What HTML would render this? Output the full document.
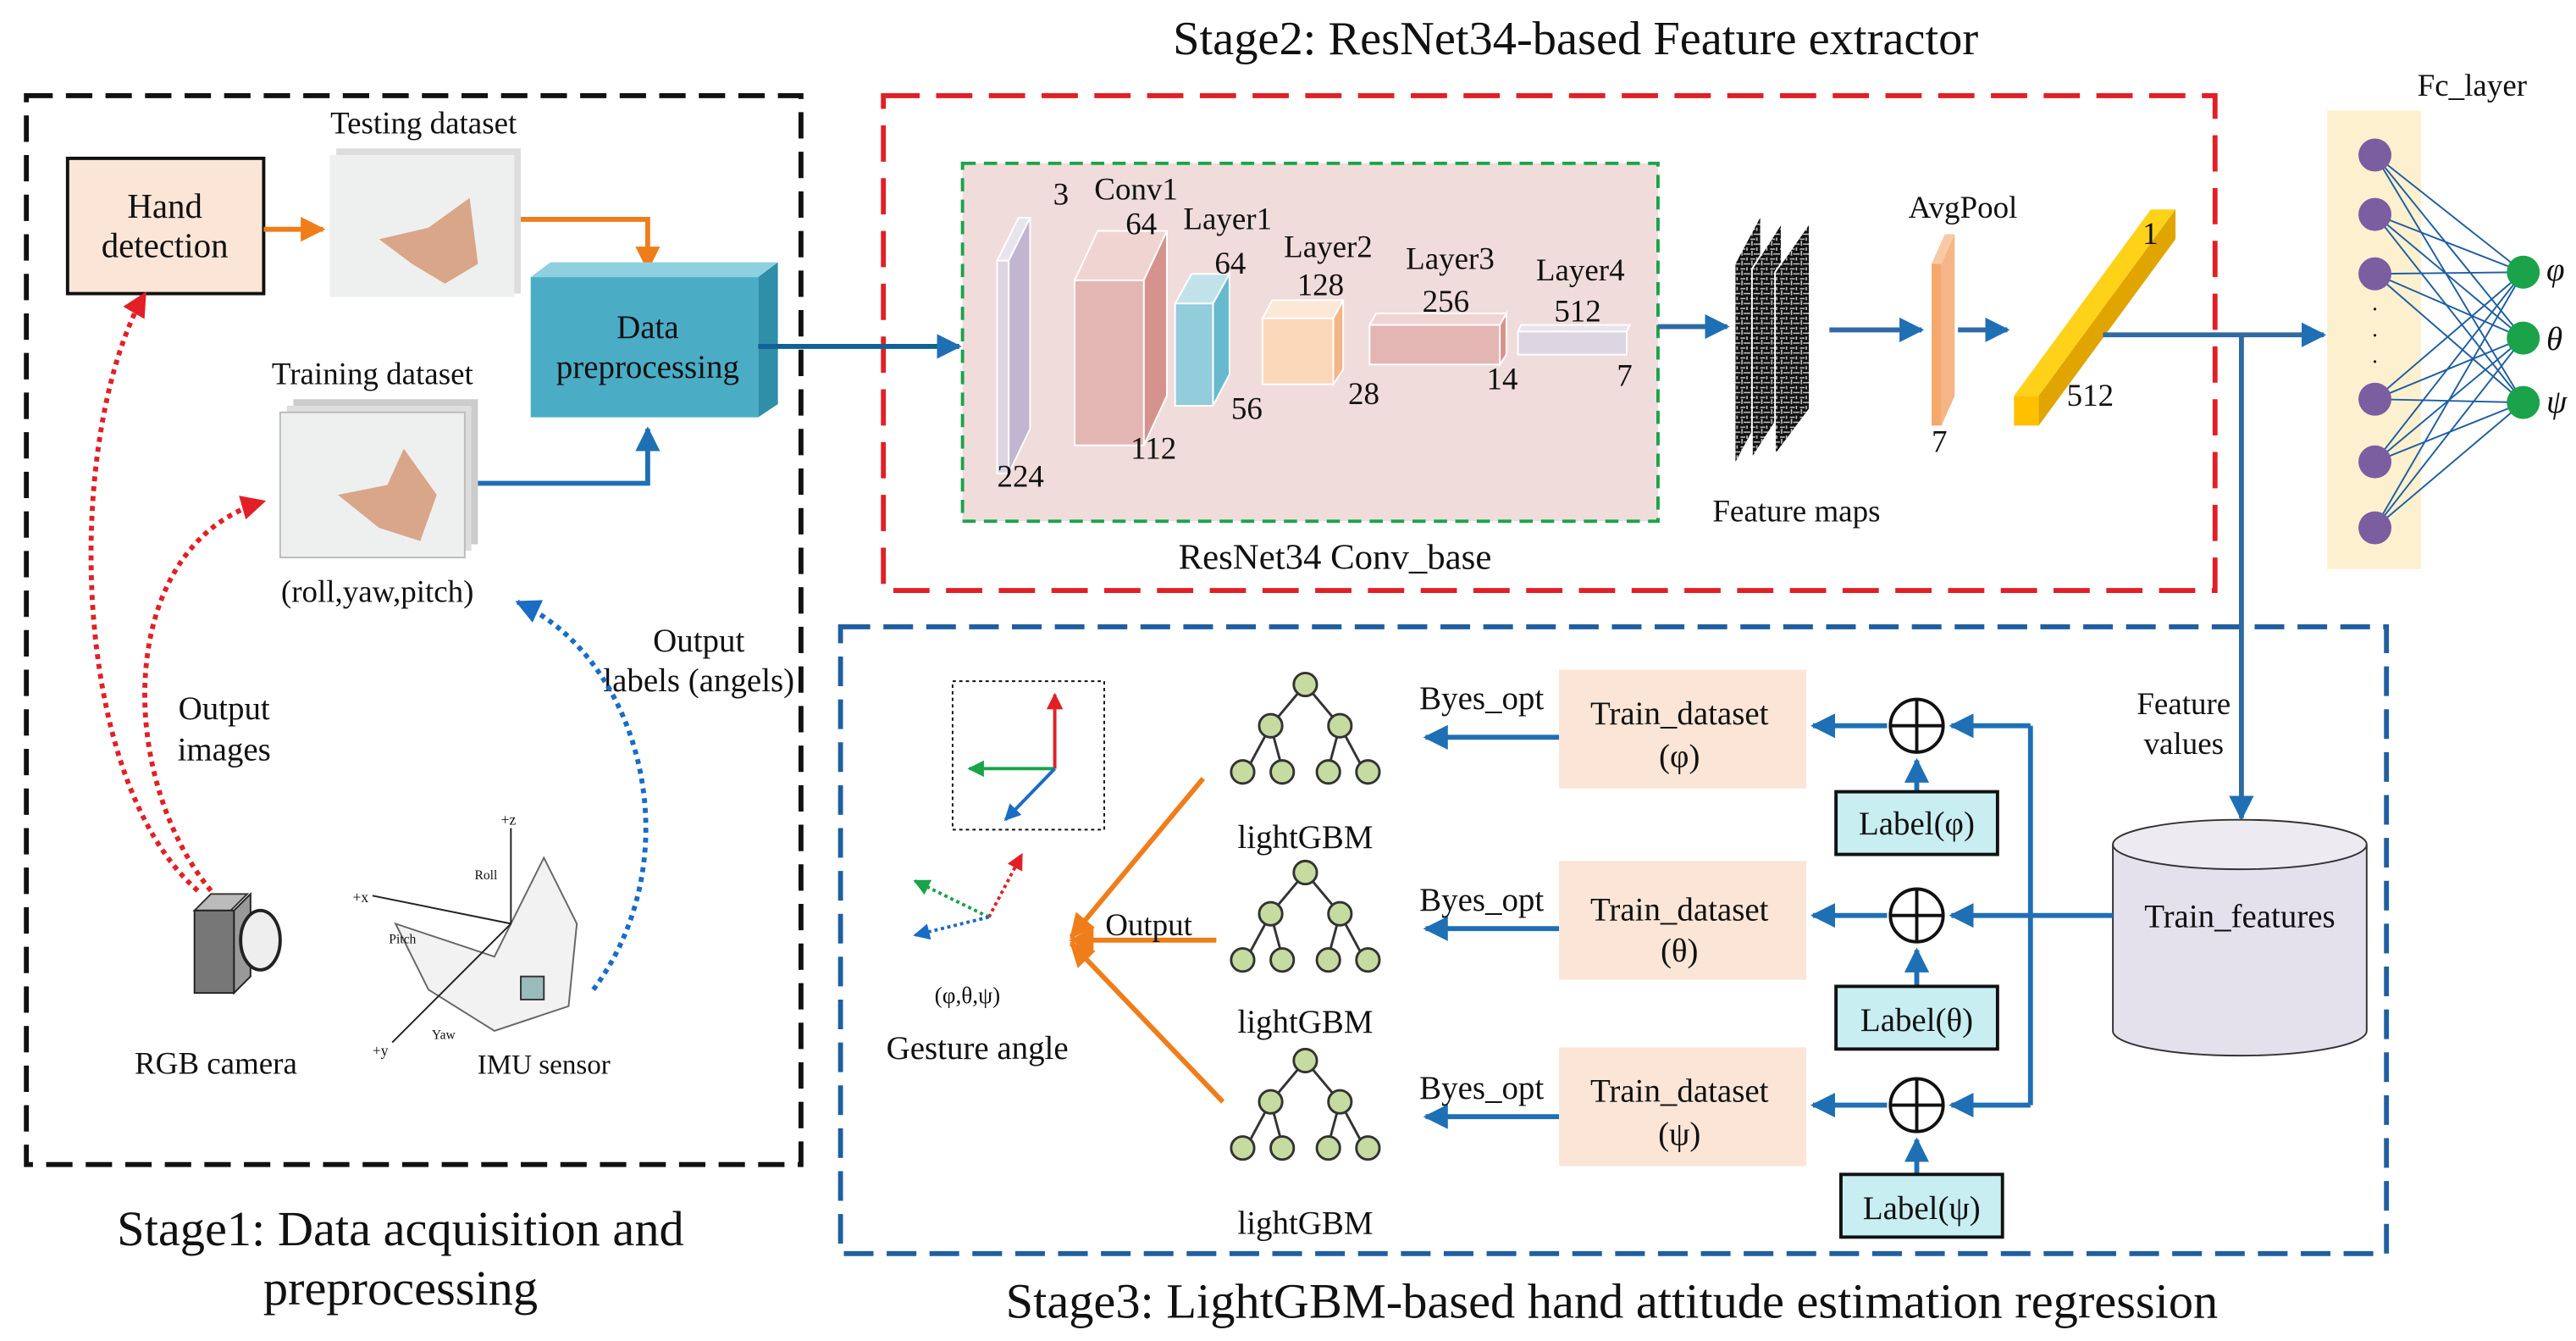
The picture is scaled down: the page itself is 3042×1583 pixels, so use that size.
<!DOCTYPE html>
<html><head><meta charset="utf-8"><style>html,body{margin:0;padding:0;background:#fff}svg{display:block}text{font-family:"Liberation Serif",serif;fill:#111}</style></head><body>
<svg width="3042" height="1583" viewBox="0 0 1563 813" preserveAspectRatio="none" xmlns="http://www.w3.org/2000/svg">
<defs>
<marker id="ab" viewBox="0 0 10 10" refX="9" refY="5" markerWidth="5" markerHeight="5" orient="auto"><path d="M0,0L10,5L0,10z" fill="#1f6fb5"/></marker>
<marker id="ao" viewBox="0 0 10 10" refX="9" refY="5" markerWidth="5" markerHeight="5" orient="auto"><path d="M0,0L10,5L0,10z" fill="#ef7d1a"/></marker>
<marker id="ar" viewBox="0 0 10 10" refX="9" refY="5" markerWidth="5" markerHeight="5" orient="auto"><path d="M0,0L10,5L0,10z" fill="#e21f26"/></marker>
<marker id="abl" viewBox="0 0 10 10" refX="9" refY="5" markerWidth="5" markerHeight="5" orient="auto"><path d="M0,0L10,5L0,10z" fill="#1a6cc4"/></marker>
<marker id="ag" viewBox="0 0 10 10" refX="9" refY="5" markerWidth="5" markerHeight="5" orient="auto"><path d="M0,0L10,5L0,10z" fill="#1aa34a"/></marker>
<pattern id="noise" width="6" height="6" patternUnits="userSpaceOnUse"><rect width="6" height="6" fill="#111"/><path d="M0,1h3M2,4h4M1,2v3M4,0v2" stroke="#ccc" stroke-width="0.8"/></pattern>
</defs>

<text x="956" y="33" font-size="29" text-anchor="middle">Stage2: ResNet34-based Feature extractor</text>
<text x="243" y="755" font-size="30" text-anchor="middle">Stage1: Data acquisition and</text>
<text x="243" y="791" font-size="30" text-anchor="middle">preprocessing</text>
<text x="978" y="799" font-size="30" text-anchor="middle">Stage3: LightGBM-based hand attitude estimation regression</text>

<rect x="16" y="58" width="470" height="648" fill="none" stroke="#111" stroke-width="3" stroke-dasharray="16,8"/>
<rect x="41" y="96" width="119" height="82" fill="#fbe5d6" stroke="#111" stroke-width="2"/>
<text x="100" y="132" font-size="21" text-anchor="middle">Hand</text>
<text x="100" y="156" font-size="21" text-anchor="middle">detection</text>
<line x1="160" y1="139" x2="196" y2="139" stroke="#ef7d1a" stroke-width="3" marker-end="url(#ao)"/>
<text x="257" y="81" font-size="19" text-anchor="middle">Testing dataset</text>
<rect x="204" y="90" width="112" height="88" fill="#ddd"/>
<rect x="200" y="94" width="112" height="86" fill="#eef0f0"/>
<path d="M230,145 L260,138 L285,120 L290,160 L270,172 L250,160 Z" fill="#d9a68a"/>
<path d="M316,133 L393,133 L393,163" fill="none" stroke="#ef7d1a" stroke-width="3" marker-end="url(#ao)"/>
<text x="226" y="233" font-size="19" text-anchor="middle">Training dataset</text>
<rect x="178" y="242" width="112" height="88" fill="#ccc"/><rect x="174" y="246" width="112" height="88" fill="#ddd"/>
<rect x="170" y="250" width="112" height="88" fill="#eef0f0" stroke="#bbb"/>
<path d="M205,300 L235,294 L245,272 L265,300 L255,328 L230,320 Z" fill="#d9a68a"/>
<path d="M290,293 L393,293 L393,260" fill="none" stroke="#1f6fb5" stroke-width="3" marker-end="url(#ab)"/>
<polygon points="322,168 334,159 472,159 460,168" fill="#8fd0e0"/>
<polygon points="460,168 472,159 472,245 460,253" fill="#2f8ea8"/>
<rect x="322" y="168" width="138" height="85" fill="#4bacc6"/>
<text x="393" y="205" font-size="20" text-anchor="middle">Data</text>
<text x="393" y="229" font-size="20" text-anchor="middle">preprocessing</text>
<text x="229" y="365" font-size="19" text-anchor="middle">(roll,yaw,pitch)</text>
<text x="424" y="395" font-size="20" text-anchor="middle">Output</text>
<text x="424" y="419" font-size="20" text-anchor="middle">labels (angels)</text>
<text x="136" y="436" font-size="20" text-anchor="middle">Output</text>
<text x="136" y="461" font-size="20" text-anchor="middle">images</text>
<path d="M120,540 C40,470 40,260 88,178" fill="none" stroke="#e21f26" stroke-width="3" stroke-dasharray="3,3" marker-end="url(#ar)"/>
<path d="M128,540 C70,470 70,330 160,304" fill="none" stroke="#e21f26" stroke-width="3" stroke-dasharray="3,3" marker-end="url(#ar)"/>
<path d="M360,600 C420,520 390,400 314,365" fill="none" stroke="#1a6cc4" stroke-width="3" stroke-dasharray="3,3" marker-end="url(#abl)"/>
<polygon points="118,552 128,542 150,542 140,552" fill="#bbb" stroke="#333"/>
<rect x="118" y="552" width="24" height="50" fill="#777" stroke="#222"/>
<polygon points="142,552 152,542 152,592 142,602" fill="#999" stroke="#222"/>
<ellipse cx="158" cy="570" rx="12" ry="18" fill="#eee" stroke="#222" stroke-width="2"/>
<text x="131" y="651" font-size="19" text-anchor="middle">RGB camera</text>
<path d="M240,560 L300,580 L330,520 L350,560 L345,610 L300,625 L260,600 Z" fill="#f2f2f2" stroke="#666"/>
<line x1="310" y1="560" x2="310" y2="502" stroke="#222"/><text x="304" y="500" font-size="9">+z</text>
<line x1="310" y1="560" x2="226" y2="543" stroke="#222"/><text x="214" y="547" font-size="9">+x</text>
<line x1="310" y1="560" x2="238" y2="632" stroke="#222"/><text x="226" y="640" font-size="9">+y</text>
<text x="288" y="533" font-size="8">Roll</text><text x="236" y="572" font-size="8">Pitch</text><text x="262" y="630" font-size="8">Yaw</text>
<rect x="316" y="592" width="14" height="14" fill="#9bb" stroke="#333"/>
<text x="330" y="651" font-size="17" text-anchor="middle">IMU sensor</text>

<rect x="536" y="58" width="808" height="300" fill="none" stroke="#e21f26" stroke-width="3" stroke-dasharray="22,10"/>
<line x1="460" y1="210" x2="582" y2="210" stroke="#0f6196" stroke-width="3" marker-end="url(#ab)"/>
<rect x="584" y="99" width="422" height="217" fill="#f0dcda" stroke="#1aa34a" stroke-width="2" stroke-dasharray="8,5"/>
<polygon points="605,158 618,132 625,132 612,158" fill="#e8e4ec" stroke="#fff"/>
<polygon points="612,158 625,132 625,260 612,287" fill="#c2b5cf" stroke="#fff"/>
<rect x="605" y="158" width="7" height="129" fill="#ddd6e2" stroke="#fff"/>
<polygon points="652,170 666,140 708,140 694,170" fill="#f0d4d2" stroke="#fff"/>
<polygon points="694,170 708,140 708,240 694,270" fill="#d6928d" stroke="#fff"/>
<rect x="652" y="170" width="42" height="100" fill="#e4b6b3" stroke="#fff"/>
<polygon points="713,184 723,166 746,166 736,184" fill="#c2e2ea" stroke="#fff"/>
<polygon points="736,184 746,166 746,227 736,246" fill="#67b9ce" stroke="#fff"/>
<rect x="713" y="184" width="23" height="62" fill="#93ccdb" stroke="#fff"/>
<polygon points="766,193 772,182 815,182 809,193" fill="#fde7d7" stroke="#fff"/>
<polygon points="809,193 815,182 815,224 809,233" fill="#f5b586" stroke="#fff"/>
<rect x="766" y="193" width="43" height="40" fill="#fad7b9" stroke="#fff"/>
<polygon points="831,197 835,190 914,190 910,197" fill="#f0d4d2" stroke="#fff"/>
<polygon points="910,197 914,190 914,215 910,221" fill="#d6928d" stroke="#fff"/>
<rect x="831" y="197" width="79" height="24" fill="#e4b6b3" stroke="#fff"/>
<polygon points="921,201 923,197 989,197 987,201" fill="#e8e4ec" stroke="#fff"/>
<rect x="921" y="201" width="66" height="14" fill="#ddd6e2" stroke="#fff"/>
<g font-size="19">
<text x="639" y="124">3</text><text x="664" y="121">Conv1</text><text x="683" y="142">64</text>
<text x="718" y="139">Layer1</text><text x="737" y="166">64</text>
<text x="779" y="156">Layer2</text><text x="787" y="179">128</text>
<text x="853" y="163">Layer3</text><text x="863" y="189">256</text>
<text x="932" y="170">Layer4</text><text x="943" y="195">512</text>
<text x="605" y="295">224</text><text x="686" y="278">112</text><text x="747" y="254">56</text><text x="818" y="245">28</text>
<text x="902" y="236">14</text><text x="981" y="234">7</text>
</g>
<text x="810" y="345" font-size="22" text-anchor="middle">ResNet34 Conv_base</text>
<line x1="1006" y1="198" x2="1048" y2="198" stroke="#2f6aa3" stroke-width="3" marker-end="url(#ab)"/>
<polygon points="1053,160 1068,132 1068,252 1053,280" fill="url(#noise)"/>
<polygon points="1063,163 1081,135 1081,250 1063,278" fill="url(#noise)" stroke="#fff"/>
<polygon points="1077,165 1098,135 1098,248 1077,276" fill="url(#noise)" stroke="#fff"/>
<text x="1090" y="316" font-size="19" text-anchor="middle">Feature maps</text>
<line x1="1110" y1="200" x2="1166" y2="200" stroke="#2f6aa3" stroke-width="3" marker-end="url(#ab)"/>
<text x="1191" y="132" font-size="19" text-anchor="middle">AvgPool</text>
<polygon points="1172,160 1180,142 1186,142 1178,160" fill="#f8c9a5"/>
<polygon points="1178,160 1186,142 1186,240 1178,258" fill="#f5b586"/>
<rect x="1172" y="160" width="6" height="98" fill="#f4a86b"/>
<text x="1172" y="274" font-size="19">7</text>
<line x1="1188" y1="200" x2="1218" y2="200" stroke="#2f6aa3" stroke-width="3" marker-end="url(#ab)"/>
<polygon points="1222,240 1305,127 1320,127 1237,240" fill="#ffd21a"/>
<polygon points="1237,240 1320,127 1320,145 1237,258" fill="#e0a500"/>
<rect x="1222" y="240" width="15" height="18" fill="#ffc000"/>
<text x="1300" y="148" font-size="19">1</text><text x="1254" y="246" font-size="19">512</text>
<line x1="1276" y1="203" x2="1410" y2="203" stroke="#2f6aa3" stroke-width="3" marker-end="url(#ab)"/>
<rect x="1412" y="67" width="57" height="278" fill="#fdf0cf"/>
<text x="1500" y="58" font-size="19" text-anchor="middle">Fc_layer</text>
<g stroke="#1f5fa0" stroke-width="1">
<line x1="1441" y1="94" x2="1531" y2="165"/><line x1="1441" y1="94" x2="1531" y2="205"/><line x1="1441" y1="94" x2="1531" y2="244"/>
<line x1="1441" y1="130" x2="1531" y2="165"/><line x1="1441" y1="130" x2="1531" y2="205"/><line x1="1441" y1="130" x2="1531" y2="244"/>
<line x1="1441" y1="166" x2="1531" y2="165"/><line x1="1441" y1="166" x2="1531" y2="205"/><line x1="1441" y1="166" x2="1531" y2="244"/>
<line x1="1441" y1="242" x2="1531" y2="165"/><line x1="1441" y1="242" x2="1531" y2="205"/><line x1="1441" y1="242" x2="1531" y2="244"/>
<line x1="1441" y1="280" x2="1531" y2="165"/><line x1="1441" y1="280" x2="1531" y2="205"/><line x1="1441" y1="280" x2="1531" y2="244"/>
<line x1="1441" y1="320" x2="1531" y2="165"/><line x1="1441" y1="320" x2="1531" y2="205"/><line x1="1441" y1="320" x2="1531" y2="244"/>
</g>
<g fill="#7a5ea0"><circle cx="1441" cy="94" r="10"/><circle cx="1441" cy="130" r="10"/><circle cx="1441" cy="166" r="10"/><circle cx="1441" cy="242" r="10"/><circle cx="1441" cy="280" r="10"/><circle cx="1441" cy="320" r="10"/></g>
<text x="1441" y="192" font-size="14" text-anchor="middle">·</text><text x="1441" y="208" font-size="14" text-anchor="middle">·</text><text x="1441" y="224" font-size="14" text-anchor="middle">·</text>
<g fill="#1aa34a"><circle cx="1531" cy="165" r="10"/><circle cx="1531" cy="205" r="10"/><circle cx="1531" cy="244" r="10"/></g>
<g font-size="20" font-style="italic"><text x="1545" y="170">φ</text><text x="1545" y="212">θ</text><text x="1545" y="250">ψ</text></g>

<rect x="510" y="380" width="938" height="380" fill="none" stroke="#1f5fa0" stroke-width="3" stroke-dasharray="18,8"/>
<line x1="1360" y1="203" x2="1360" y2="496" stroke="#2f6aa3" stroke-width="3" marker-end="url(#ab)"/>
<text x="1325" y="433" font-size="19" text-anchor="middle">Feature</text>
<text x="1325" y="457" font-size="19" text-anchor="middle">values</text>
<path d="M1282,512 L1282,625 A77,15 0 0 0 1436,625 L1436,512" fill="#e4e0ec" stroke="#333"/>
<ellipse cx="1359" cy="512" rx="77" ry="15" fill="#eeeaf2" stroke="#333"/>
<text x="1359" y="562" font-size="20" text-anchor="middle">Train_features</text>
<path d="M1282,555 L1232,555 M1232,440 L1232,670" fill="none" stroke="#1f6fb5" stroke-width="3"/>
<g stroke="#1f6fb5" stroke-width="3" fill="none">
<line x1="1232" y1="440" x2="1184" y2="440" marker-end="url(#ab)"/>
<line x1="1232" y1="555" x2="1184" y2="555" marker-end="url(#ab)"/>
<line x1="1232" y1="670" x2="1184" y2="670" marker-end="url(#ab)"/>
<line x1="1145" y1="440" x2="1100" y2="440" marker-end="url(#ab)"/>
<line x1="1145" y1="555" x2="1100" y2="555" marker-end="url(#ab)"/>
<line x1="1145" y1="670" x2="1100" y2="670" marker-end="url(#ab)"/>
<line x1="1163" y1="480" x2="1163" y2="461" marker-end="url(#ab)"/>
<line x1="1163" y1="598" x2="1163" y2="576" marker-end="url(#ab)"/>
<line x1="1163" y1="712" x2="1163" y2="691" marker-end="url(#ab)"/>
<line x1="946" y1="447" x2="865" y2="447" marker-end="url(#ab)"/>
<line x1="946" y1="563" x2="865" y2="563" marker-end="url(#ab)"/>
<line x1="946" y1="677" x2="865" y2="677" marker-end="url(#ab)"/>
</g>
<g stroke="#111" stroke-width="2" fill="#fff">
<circle cx="1163" cy="440" r="16"/><circle cx="1163" cy="555" r="16"/><circle cx="1163" cy="670" r="16"/>
</g>
<g stroke="#111" stroke-width="2">
<path d="M1147,440h32M1163,424v32M1147,555h32M1163,539v32M1147,670h32M1163,654v32"/>
</g>
<g fill="#c8eef2" stroke="#111" stroke-width="2">
<rect x="1114" y="480" width="98" height="38"/><rect x="1114" y="598" width="98" height="38"/><rect x="1117" y="712" width="98" height="38"/>
</g>
<g font-size="20" text-anchor="middle">
<text x="1163" y="506">Label(φ)</text><text x="1163" y="625">Label(θ)</text><text x="1166" y="739">Label(ψ)</text>
</g>
<g fill="#fbe5d6">
<rect x="946" y="406" width="150" height="72"/><rect x="946" y="522" width="150" height="72"/><rect x="946" y="635" width="150" height="72"/>
</g>
<g font-size="20" text-anchor="middle">
<text x="1019" y="439">Train_dataset</text><text x="1019" y="465">(φ)</text>
<text x="1019" y="558">Train_dataset</text><text x="1019" y="583">(θ)</text>
<text x="1019" y="668">Train_dataset</text><text x="1019" y="694">(ψ)</text>
<text x="899" y="430">Byes_opt</text><text x="899" y="552">Byes_opt</text><text x="899" y="666">Byes_opt</text>
<text x="792" y="514">lightGBM</text><text x="792" y="626">lightGBM</text><text x="792" y="748">lightGBM</text>
</g>
<g id="tree" stroke="#333" stroke-width="1.5" fill="#c5dba0">
<line x1="792" y1="415" x2="771" y2="440"/><line x1="792" y1="415" x2="813" y2="440"/>
<line x1="771" y1="440" x2="757" y2="466"/><line x1="771" y1="440" x2="778" y2="466"/>
<line x1="813" y1="440" x2="806" y2="466"/><line x1="813" y1="440" x2="827" y2="466"/>
<circle cx="792" cy="415" r="7"/><circle cx="771" cy="440" r="7"/><circle cx="813" cy="440" r="7"/>
<circle cx="754" cy="468" r="7"/><circle cx="778" cy="468" r="7"/><circle cx="806" cy="468" r="7"/><circle cx="830" cy="468" r="7"/>
</g>
<use href="#tree" y="114"/><use href="#tree" y="228"/>
<g stroke="#ef7d1a" stroke-width="3" fill="none">
<line x1="730" y1="472" x2="650" y2="568" marker-end="url(#ao)"/>
<line x1="738" y1="570" x2="650" y2="570" marker-end="url(#ao)"/>
<line x1="742" y1="668" x2="650" y2="572" marker-end="url(#ao)"/>
</g>
<text x="697" y="567" font-size="19" text-anchor="middle">Output</text>
<rect x="578" y="413" width="92" height="90" fill="none" stroke="#111" stroke-dasharray="2,2"/>
<line x1="640" y1="466" x2="640" y2="421" stroke="#e21f26" stroke-width="2" marker-end="url(#ar)"/>
<line x1="640" y1="466" x2="588" y2="466" stroke="#1aa34a" stroke-width="2" marker-end="url(#ag)"/>
<line x1="640" y1="466" x2="610" y2="497" stroke="#1a6cc4" stroke-width="2" marker-end="url(#abl)"/>
<line x1="600" y1="556" x2="620" y2="518" stroke="#e21f26" stroke-width="2" stroke-dasharray="2,2" marker-end="url(#ar)"/>
<line x1="600" y1="556" x2="555" y2="534" stroke="#1aa34a" stroke-width="2" stroke-dasharray="2,2" marker-end="url(#ag)"/>
<line x1="600" y1="556" x2="555" y2="567" stroke="#1a6cc4" stroke-width="2" stroke-dasharray="2,2" marker-end="url(#abl)"/>
<text x="587" y="608" font-size="14" text-anchor="middle">(φ,θ,ψ)</text>
<text x="593" y="642" font-size="20" text-anchor="middle">Gesture angle</text>
</svg>
</body></html>
